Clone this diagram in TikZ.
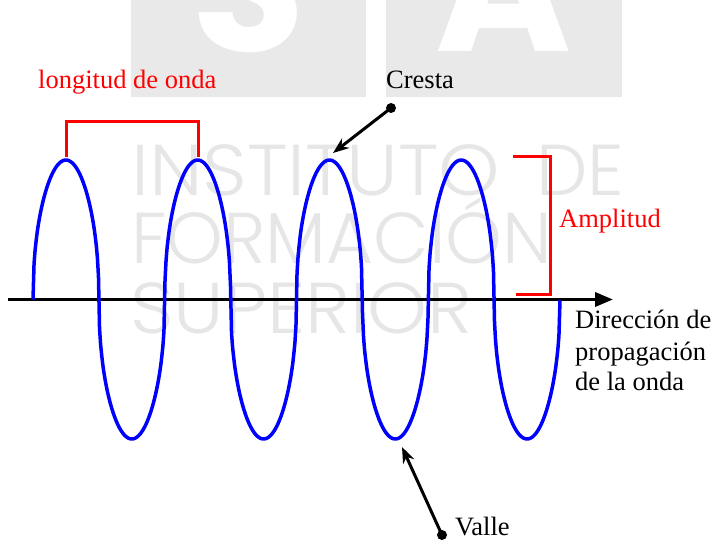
\documentclass[tikz,border=0pt]{standalone}
\usepackage{fontspec}
\setmainfont{Liberation Serif}
\newfontfamily\wmfont{Poppins Light}
\newfontfamily\wmbold{Poppins Bold}
\usetikzlibrary{arrows.meta}
\definecolor{wmgray}{HTML}{E6E6E6}
\definecolor{boxgray}{HTML}{E9E9E9}
\begin{document}
\begin{tikzpicture}[x=1pt,y=-1pt,
  lbl/.style={inner sep=0pt, anchor=base west, font=\fontsize{26.5}{31}\selectfont},
  wave/.style={blue, line width=3.5pt},
  redline/.style={red, line width=3pt},
  pointer/.style={line width=3pt, -{Stealth[length=16pt,width=12pt]}},
  dotst/.style={circle, fill=black, inner sep=0pt, minimum size=10pt},
  wm/.style={inner sep=0pt, anchor=base west, text=wmgray, font=\wmfont\fontsize{72}{72}\selectfont},
  logo/.style={inner sep=0pt, anchor=base, text=white, font=\wmbold\fontsize{185}{185}\selectfont},
]
\useasboundingbox (0,0) rectangle (714,542);
\fill[white] (0,0) rectangle (714,542);
% watermark tiles
\fill[boxgray] (131,0) rectangle (366,97);
\fill[boxgray] (386,0) rectangle (622,97);
\begin{scope}
  \clip (131,0) rectangle (366,97);
  \node[logo] (S) at (248.5,51) {S};
\end{scope}
\begin{scope}
  \clip (386,0) rectangle (622,97);
  \node[logo] (A) at (504,51) {A};
\end{scope}
% watermark text
\node[wm] (w1) at (131,195) {\resizebox{369pt}{\height}{INSTITUTO}};
\node[wm] (w1b) at (536,195) {\resizebox{88pt}{\height}{DE}};
\node[wm] (w2) at (131,263) {\resizebox{421pt}{\height}{FORMACIÓN}};
\node[wm] (w3) at (130,333) {\resizebox{342pt}{\height}{SUPERIOR}};
% axis
\coordinate (axs) at (8,299.5);
\coordinate (axe) at (613,299.5);
\draw[line width=3.5pt, -{Triangle[length=18pt,width=14pt]}] (axs) -- (axe);
% wave
\draw[wave, line join=round] plot[domain=0:527, samples=500]
  ({33+\x},{299.5-139.5*sin(\x/131.75*360)*(abs(sin(\x/131.75*360))+0.0005)^(-0.55)});
% wavelength bracket
\coordinate (wl1) at (66,157);
\coordinate (wl2) at (198,157);
\draw[redline] (wl1) -- (66,121) -- (198,121) -- (wl2);
\node[lbl, text=red] (lon) at (38,88) {longitud de onda};
% amplitude bracket
\coordinate (am1) at (513,156);
\coordinate (am2) at (516,294);
\draw[redline] (am1) -- (550,156) -- (550,294) -- (am2);
\node[lbl, text=red] (amp) at (559,227) {Amplitud};
% crest
\node[lbl] (cresta) at (386,88) {Cresta};
\node[dotst] (cdot) at (391,108) {};
\coordinate (crest) at (333,153);
\draw[pointer] (cdot.center) -- (crest);
% trough
\node[lbl] (valle) at (455,535) {Valle};
\node[dotst] (vdot) at (442,535) {};
\coordinate (trough) at (402,447);
\draw[pointer] (vdot.center) -- (trough);
% direction
\node[lbl] (d1) at (575,328) {Dirección de};
\node[lbl] (d2) at (575,360) {propagación};
\node[lbl] (d3) at (575,390) {de la onda};
\end{tikzpicture}
\end{document}
